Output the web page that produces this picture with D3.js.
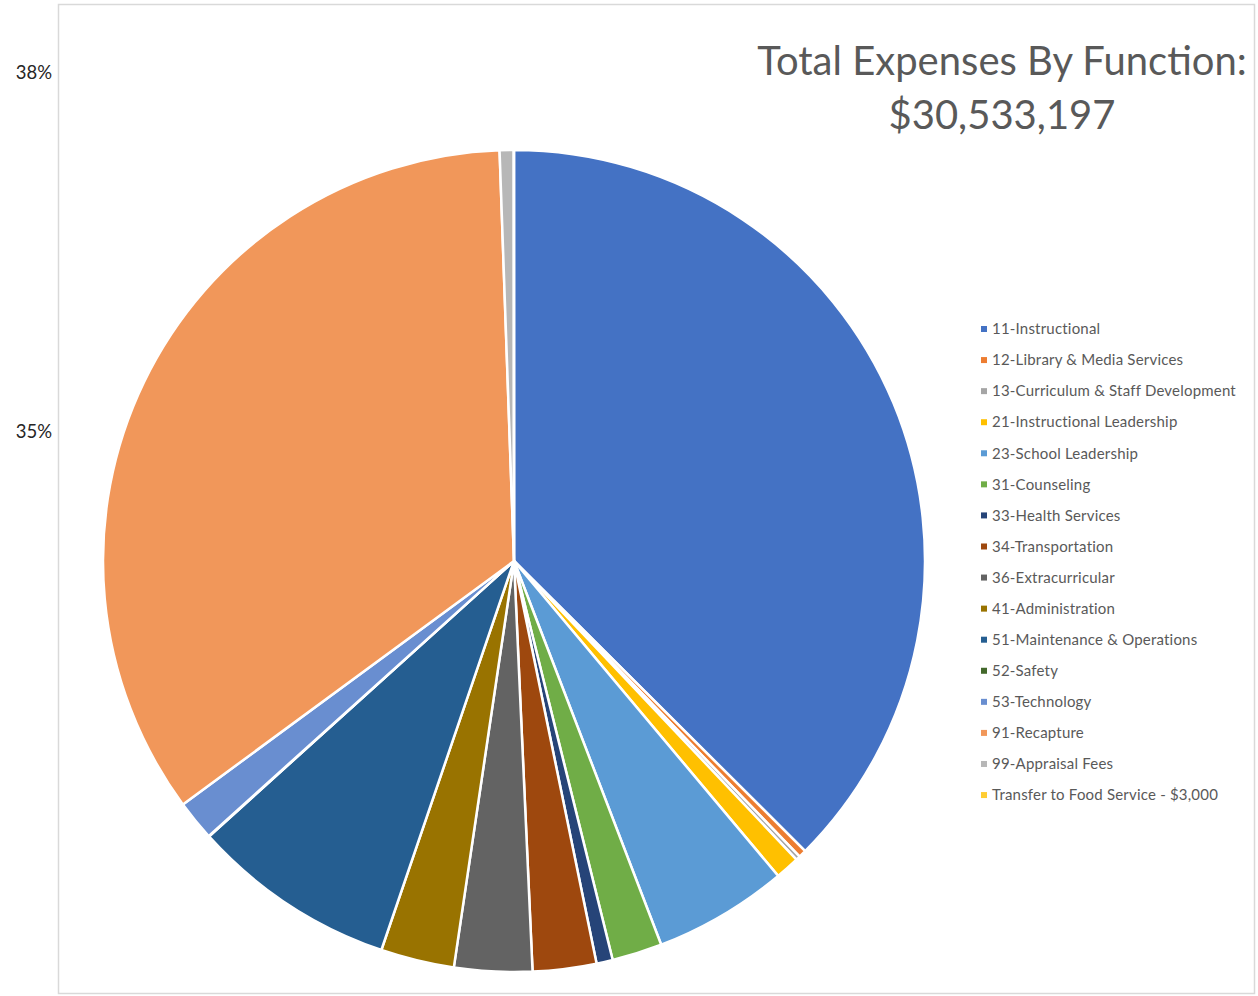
<!doctype html>
<html>
<head>
<meta charset="utf-8">
<script src="https://cdn.jsdelivr.net/npm/d3@7"></script>
<style>
  body { margin: 0; background: #fff; }
  svg { font-family: Lato, "Open Sans", sans-serif; }
</style>
</head>
<body>
<svg id="chart" width="1258" height="996"></svg>
<script>
// expense categories, in pie / legend order
const categories = [
  '11-Instructional',
  '12-Library & Media Services',
  '13-Curriculum & Staff Development',
  '21-Instructional Leadership',
  '23-School Leadership',
  '31-Counseling',
  '33-Health Services',
  '34-Transportation',
  '36-Extracurricular',
  '41-Administration',
  '51-Maintenance & Operations',
  '52-Safety',
  '53-Technology',
  '91-Recapture',
  '99-Appraisal Fees',
  'Transfer to Food Service - $3,000'
]

// dollars
const amounts = [
  11441000, 91600, 52000, 290000, 1612000, 601500, 195400, 763300,
  934300, 882400, 2467100, 6100, 482400, 10543100, 167900, 3000
]

const colors = [
  '#4472C4', '#ED7D31', '#A5A5A5', '#FFC000', '#5B9BD5', '#70AD47',
  '#264478', '#9E480E', '#636363', '#997300', '#255E91', '#43682B',
  '#698ED0', '#F1975A', '#B7B7B7', '#FFCD33'
]

const titleLines = ['Total Expenses By Function:', '$30,533,197']

// stray axis labels left of the plot area
const sideLabels = [
  { text: '38%', y: 73 },
  { text: '35%', y: 432 }
]

const svg = d3.select('#chart')

svg.append('rect')
  .attr('x', 58.5).attr('y', 4.5)
  .attr('width', 1196).attr('height', 989)
  .attr('fill', '#fff')
  .attr('stroke', '#d9d9d9')
  .attr('stroke-width', 1.5)

svg.append('g')
  .selectAll('text')
  .data(sideLabels)
  .join('text')
  .attr('x', 52)
  .attr('y', d => d.y)
  .attr('dy', '0.35em')
  .attr('text-anchor', 'end')
  .attr('font-size', 18.5)
  .attr('fill', '#262626')
  .text(d => d.text)

const cx = 514, cy = 561, radius = 411

const pie = d3.pie().sort(null).value(d => d)
const arc = d3.arc().innerRadius(0).outerRadius(radius)

svg.append('g')
  .attr('transform', `translate(${cx},${cy})`)
  .selectAll('path')
  .data(pie(amounts))
  .join('path')
  .attr('d', arc)
  .attr('fill', (d, i) => colors[i])
  .attr('stroke', '#fff')
  .attr('stroke-width', 2.5)
  .attr('stroke-linejoin', 'round')

svg.append('g')
  .selectAll('text')
  .data(titleLines)
  .join('text')
  .attr('x', 1002)
  .attr('y', (d, i) => 75 + i * 54)
  .attr('text-anchor', 'middle')
  .attr('font-size', 40)
  .attr('fill', '#595959')
  .text(d => d)

const legend = svg.append('g')
  .selectAll('g')
  .data(categories)
  .join('g')
  .attr('transform', (d, i) => `translate(981,${329 + i * 31.07})`)

legend.append('rect')
  .attr('x', 0).attr('y', -3)
  .attr('width', 6).attr('height', 6)
  .attr('fill', (d, i) => colors[i])

legend.append('text')
  .attr('x', 11)
  .attr('dy', '0.35em')
  .attr('font-size', 15)
  .attr('letter-spacing', 0.2)
  .attr('fill', '#595959')
  .text(d => d)
</script>
</body>
</html>
